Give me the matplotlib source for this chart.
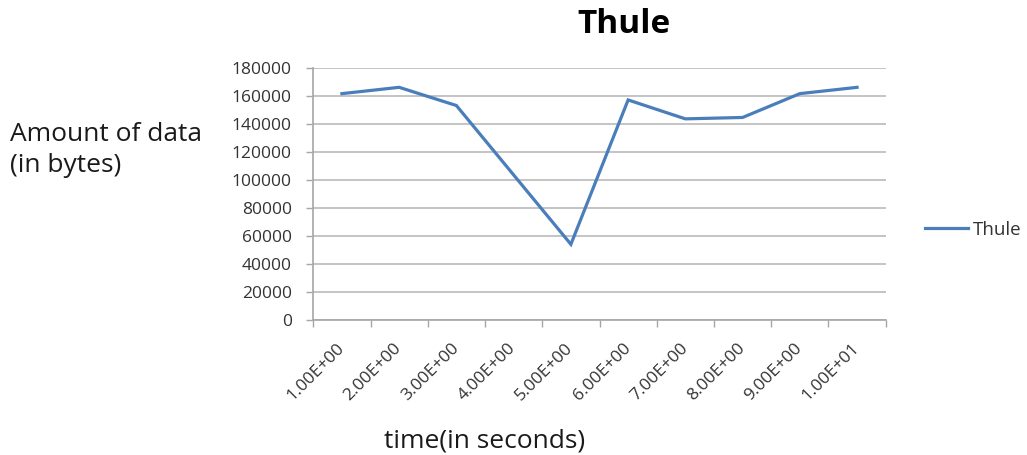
import matplotlib.pyplot as plt

# data
times = ['1.00E+00', '2.00E+00', '3.00E+00', '4.00E+00', '5.00E+00',
         '6.00E+00', '7.00E+00', '8.00E+00', '9.00E+00', '1.00E+01']
thule = [161500, 166000, 153000, 103500, 54000,
         157000, 143500, 144500, 161500, 166000]
yticks = [0, 20000, 40000, 60000, 80000, 100000, 120000, 140000, 160000, 180000]

plt.rcParams['font.family'] = ['Open Sans', 'DejaVu Sans']

W, H = 1027, 455
fig = plt.figure(figsize=(W / 100, H / 100), dpi=100)
ax = fig.add_axes([313.3 / W, 1 - 320 / H, (885.7 - 313.3) / W, (320 - 67.7) / H])

x = list(range(len(times)))
ax.plot(x, thule, color='#4A7EBB', lw=2.3, label='Thule', solid_joinstyle='miter')

ax.set_xlim(-0.5, len(times) - 0.5)
ax.set_ylim(yticks[0], yticks[-1])
ax.set_yticks(yticks)
ax.set_yticklabels([str(v) for v in yticks])

# category labels in the middle, tick marks between categories
ax.set_xticks(x)
ax.set_xticklabels(times, rotation=45, ha='right', va='center',
                   rotation_mode='anchor')
ax.set_xticks([i - 0.5 for i in range(len(times) + 1)], minor=True)
ax.tick_params(axis='x', which='major', length=0, pad=18.5,
               labelsize=12.5, labelcolor='#333333')
ax.tick_params(axis='x', which='minor', length=5, width=1, color='#A6A6A6')
ax.tick_params(axis='y', length=5, width=1, color='#A6A6A6', pad=10.5,
               labelsize=12.5, labelcolor='#333333')

ax.yaxis.grid(True, color='#BFBFBF', lw=1.3)
ax.set_axisbelow(True)
for s in ['top', 'right']:
    ax.spines[s].set_visible(False)
for s in ['left', 'bottom']:
    ax.spines[s].set_color('#A6A6A6')
    ax.spines[s].set_linewidth(1.2)

fig.text(624 / W, 1 - 33 / H, 'Thule', ha='center', va='baseline',
         fontsize=24, fontweight='bold', color='black')
fig.text(10 / W, 1 - 141 / H, 'Amount of data', ha='left', va='baseline',
         fontsize=19, color='#1a1a1a')
fig.text(10 / W, 1 - 172 / H, '(in bytes)', ha='left', va='baseline',
         fontsize=19, color='#1a1a1a')
fig.text(485 / W, 1 - 447 / H, 'time(in seconds)', ha='center', va='baseline',
         fontsize=19, color='#1a1a1a')

fig.legend(loc='center left', bbox_to_anchor=(925 / W, 1 - 230 / H),
           frameon=False, fontsize=13.5, handlelength=2.3, handletextpad=0.25,
           borderpad=0, borderaxespad=0, labelcolor='#333333')

fig.savefig('out.png', dpi=100)
